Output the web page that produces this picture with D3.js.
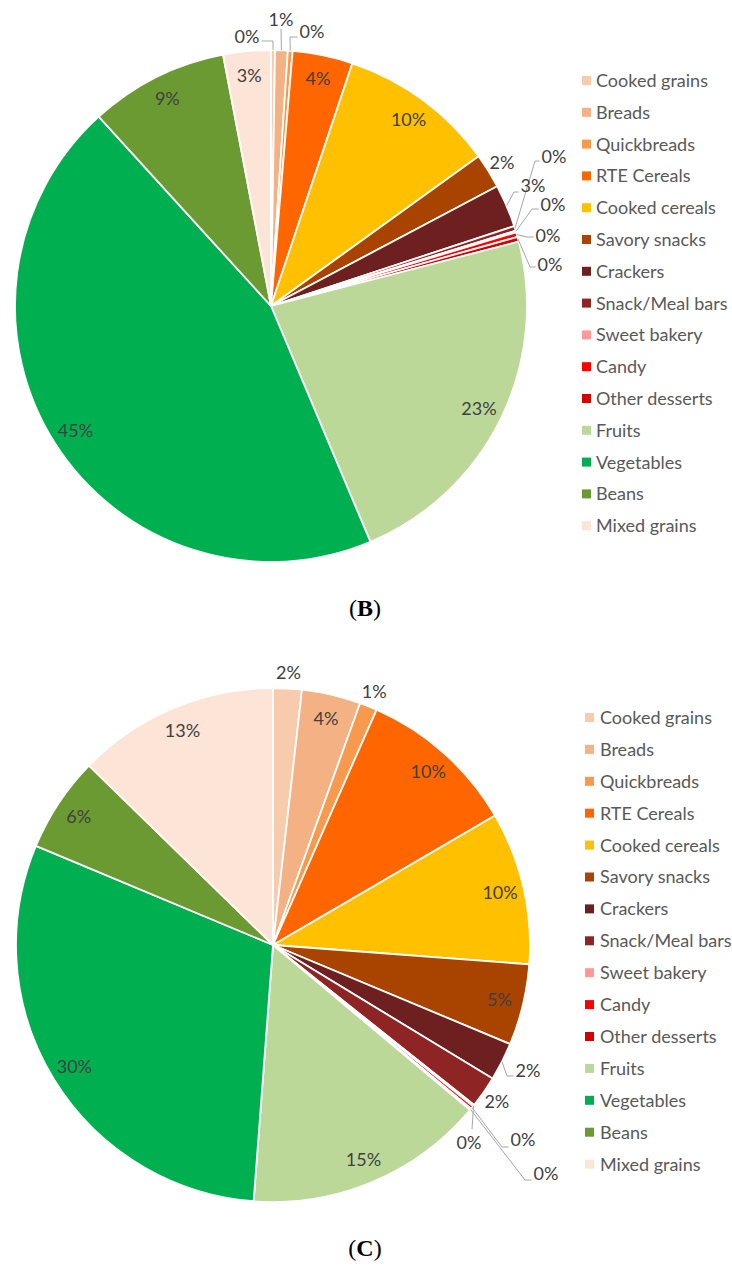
<!DOCTYPE html>
<html>
<head>
<meta charset="utf-8">
<script src="https://cdn.jsdelivr.net/npm/d3@7"></script>
<style>
  body { margin: 0; background: #ffffff; }
  svg { display: block; }
</style>
</head>
<body>
<svg id="chart" width="732" height="1268"></svg>
<script>
// Food group categories (clockwise from 12 o'clock)
const categories = [
  "Cooked grains", "Breads", "Quickbreads", "RTE Cereals", "Cooked cereals",
  "Savory snacks", "Crackers", "Snack/Meal bars", "Sweet bakery", "Candy",
  "Other desserts", "Fruits", "Vegetables", "Beans", "Mixed grains"
];

const categoryColors = [
  "#f8cbad", "#f4b183", "#f79a4d", "#ff6600", "#ffc000",
  "#a94300", "#6e1f1f", "#8e2424", "#ff9999", "#ff0000",
  "#d60000", "#bcd899", "#00b050", "#6b9a32", "#fce4d6"
];

// Percent share of each category, panel B
const sharesB = [
  0.25, 0.8, 0.3, 3.8, 9.9,
  2.2, 2.7, 0.3, 0.1, 0.3,
  0.3, 22.7, 44.6, 8.75, 3.0
];

// Percent share of each category, panel C
const sharesC = [
  1.8, 3.7, 1.1, 10.0, 9.6,
  5.1, 2.4, 2.0, 0.1, 0.2,
  0.1, 15.1, 30.1, 6.0, 12.7
];

const panelNames = ["B", "C"];

// Layout of each panel: pie centre/radius, legend, caption and label placement.
// Leader labels: text offset (tx,ty) and elbow (ex,ey) relative to the pie centre.
const panels = [
  {
    name: panelNames[0], shares: sharesB,
    cx: 271, cy: 306, r: 256,
    legendX: 582, legendY: 80.5, legendStep: 31.8, legendTextX: 596,
    captionY: 608,
    outside: [5],
    leaders: [
      { i: 0,  tx: -24, ty: -269, ex: 2,   ey: -265 },
      { i: 1,  tx: 10,  ty: -286, ex: 10,  ey: -277, vertical: true },
      { i: 2,  tx: 41,  ty: -274, ex: 19,  ey: -269 },
      { i: 6,  tx: 262, ty: -120, ex: 243, ey: -114 },
      { i: 7,  tx: 283, ty: -149, ex: 264, ey: -145 },
      { i: 8,  tx: 282, ty: -101, ex: 261, ey: -97 },
      { i: 9,  tx: 277, ty: -70,  ex: 256, ey: -69 },
      { i: 10, tx: 279, ty: -41,  ex: 259, ey: -39 }
    ]
  },
  {
    name: panelNames[1], shares: sharesC,
    cx: 273, cy: 945, r: 257,
    legendX: 585, legendY: 717.5, legendStep: 31.9, legendTextX: 600,
    captionY: 1248,
    outside: [0, 2, 7],
    leaders: [
      { i: 6,  tx: 255, ty: 126, ex: 234, ey: 131 },
      { i: 8,  tx: 196, ty: 198, ex: 199, ey: 184, vertical: true },
      { i: 9,  tx: 250, ty: 195, ex: 229, ey: 202 },
      { i: 10, tx: 273, ty: 229, ex: 252, ey: 235 }
    ]
  }
];

const svg = d3.select("#chart");
const labelFont = "Lato, 'Open Sans', sans-serif";

const pie = d3.pie().sort(null).value(d => d.value);

function pct(v) { return Math.round(v) + "%"; }

panels.forEach(p => {
  const data = categories.map((c, i) => ({ name: c, value: p.shares[i], color: categoryColors[i], i }));
  const arcs = pie(data);
  const arc = d3.arc().innerRadius(0).outerRadius(p.r);
  const g = svg.append("g").attr("transform", `translate(${p.cx},${p.cy})`);

  // slices
  g.selectAll("path.slice")
    .data(arcs)
    .join("path")
    .attr("class", "slice")
    .attr("d", arc)
    .attr("fill", d => d.data.color)
    .attr("stroke", "#ffffff")
    .attr("stroke-width", 1.8)
    .attr("stroke-linejoin", "round");

  const leaderMap = new Map(p.leaders.map(l => [l.i, l]));
  const outsideSet = new Set(p.outside);

  const polar = (a, rad) => [Math.sin(a) * rad, -Math.cos(a) * rad];

  arcs.forEach(d => {
    const mid = (d.startAngle + d.endAngle) / 2;
    let x, y;
    if (leaderMap.has(d.data.i)) {
      const l = leaderMap.get(d.data.i);
      x = l.tx; y = l.ty;
    } else if (outsideSet.has(d.data.i)) {
      [x, y] = polar(mid, p.r + 16);
    } else {
      [x, y] = polar(mid, p.r - 24);
    }
    const t = g.append("text")
      .attr("x", x).attr("y", y)
      .attr("dy", "0.36em")
      .attr("text-anchor", "middle")
      .attr("font-family", labelFont)
      .attr("font-size", 18)
      .attr("fill", "#404040")
      .text(pct(d.data.value));

    if (leaderMap.has(d.data.i)) {
      const l = leaderMap.get(d.data.i);
      const half = t.node().getComputedTextLength() / 2 + 2;
      const pts = [polar(mid, p.r), [l.ex, l.ey]];
      if (!l.vertical) {
        pts.push([l.tx > l.ex ? l.tx - half : l.tx + half, l.ey]);
      }
      g.insert("path", "text")
        .attr("d", d3.line()(pts))
        .attr("fill", "none")
        .attr("stroke", "#a6a6a6")
        .attr("stroke-width", 1);
    }
  });

  // legend
  const lg = svg.append("g");
  const rows = lg.selectAll("g.row")
    .data(data)
    .join("g")
    .attr("class", "row")
    .attr("transform", (d, k) => `translate(0,${p.legendY + k * p.legendStep})`);
  rows.append("rect")
    .attr("x", p.legendX).attr("y", -4.5)
    .attr("width", 9).attr("height", 9)
    .attr("fill", d => d.color);
  rows.append("text")
    .attr("x", p.legendTextX).attr("y", 0)
    .attr("dy", "0.36em")
    .attr("font-family", labelFont)
    .attr("font-size", 18)
    .attr("fill", "#595959")
    .text(d => d.name);

  // caption
  const cap = svg.append("text")
    .attr("x", 365).attr("y", p.captionY)
    .attr("dy", "0.35em")
    .attr("text-anchor", "middle")
    .attr("font-family", "'Liberation Serif', 'DejaVu Serif', serif")
    .attr("font-size", 24)
    .attr("fill", "#000");
  cap.append("tspan").text("(");
  cap.append("tspan").attr("font-weight", "bold").text(p.name);
  cap.append("tspan").text(")");
});
</script>
</body>
</html>
